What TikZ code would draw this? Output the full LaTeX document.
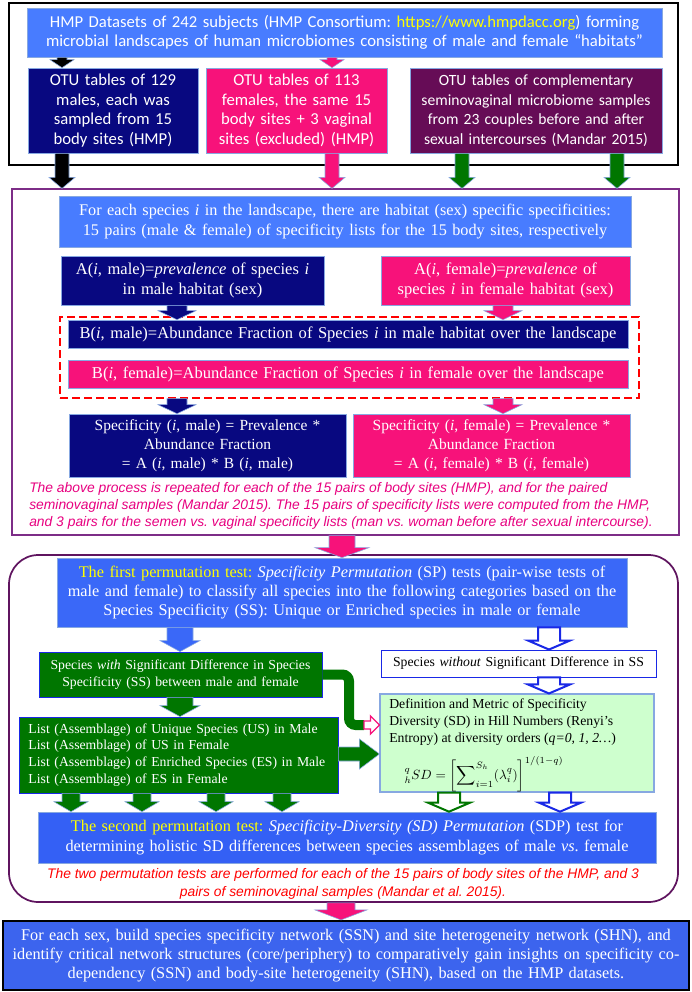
\documentclass[tikz,border=0pt]{standalone}
\usepackage{fontspec}
\setmainfont{Liberation Serif}
\newfontfamily\calfont{Carlito}
\newfontfamily\arfont{Liberation Sans}
\usetikzlibrary{calc}
\frenchspacing
\definecolor{hblue}{RGB}{72,124,255}
\definecolor{hbluetwo}{RGB}{58,104,248}
\definecolor{hbluethree}{RGB}{52,96,245}
\definecolor{fblue}{RGB}{60,100,238}
\definecolor{navy}{RGB}{8,8,128}
\definecolor{hpink}{RGB}{247,18,122}
\definecolor{hpurple}{RGB}{102,12,86}
\definecolor{hgreen}{RGB}{0,118,0}
\definecolor{lgreen}{RGB}{206,255,206}
\definecolor{framepurple}{RGB}{125,45,135}
\definecolor{framepurpletwo}{RGB}{95,20,95}
\definecolor{edgeblue}{RGB}{135,168,225}
\definecolor{hyellow}{RGB}{255,255,0}
\definecolor{magtext}{RGB}{232,0,128}
\definecolor{deepblue}{RGB}{25,40,230}
\newcommand\fcal{\calfont\fontsize{12.5}{14.6}\selectfont}
\newcommand\fcalsm{\calfont\fontsize{11.7}{14.6}\selectfont}
\newcommand\fser{\fontsize{12.2}{14.6}\selectfont}
\newcommand\fserb{\fontsize{12.4}{14.6}\selectfont}
\newcommand\fspec{\fontsize{11.6}{14.4}\selectfont}
\newcommand\fsm{\fontsize{10.3}{12.6}\selectfont}
\newcommand\fnote{\arfont\itshape\fontsize{10.4}{13}\selectfont}
\newcommand\flowbox[7]{%
  \pgfmathsetmacro\fbcx{(#3+#5)/2}%
  \pgfmathsetmacro\fbcy{(#4+#6)/2}%
  \pgfmathsetmacro\fbw{(#5-#3)*0.75}%
  \pgfmathsetmacro\fbh{(#6-#4)*0.75}%
  \pgfmathsetmacro\fbtw{\fbw-4}%
  \node[inner sep=0pt, minimum width=\fbw pt, minimum height=\fbh pt, text width=\fbtw pt, align=center, #2] (#1) at (\fbcx,\fbcy) {#7};}
\newcommand\blockarrow[6]{%
  \path[#1] let \p1=#2, \p2=#3 in
   (\x1-#4*0.75pt,\y1) -- (\x1+#4*0.75pt,\y1) -- (\x1+#4*0.75pt,\y2+#6*0.75pt) -- (\x1+#5*0.75pt,\y2+#6*0.75pt) -- (\x1,\y2) -- (\x1-#5*0.75pt,\y2+#6*0.75pt) -- (\x1-#4*0.75pt,\y2+#6*0.75pt) -- cycle;}
\newcommand\rblockarrow[6]{%
  \path[#1] let \p1=#2, \p2=#3 in
   (\x1,\y1+#4*0.75pt) -- (\x2-#6*0.75pt,\y1+#4*0.75pt) -- (\x2-#6*0.75pt,\y1+#5*0.75pt) -- (\x2,\y1) -- (\x2-#6*0.75pt,\y1-#5*0.75pt) -- (\x2-#6*0.75pt,\y1-#4*0.75pt) -- (\x1,\y1-#4*0.75pt) -- cycle;}
\tikzset{
  cbox/.style={fill=#1, draw=edgeblue, line width=0.5pt, text=white},
  sarrow/.style={fill=#1, draw=edgeblue, line width=0.4pt},
  harrow/.style={fill=white, draw=#1, line width=1.5pt},
}
\begin{document}
\begin{tikzpicture}[x=0.75pt,y=-0.75pt]
\useasboundingbox[fill=white] (0,0) rectangle (692,992);
% x positions for arrows
\foreach \n/\xx in {a/62,b/332,c/462,d/617,e/177,f/503,g/342,h/180,k/549,l1/71,l2/142,l3/216,l4/282,m/449,n/560,o/341}
  {\coordinate (x\n) at (\xx,0);}
% ---------- top section
\flowbox{topframe}{draw=black, line width=1pt}{9}{3}{678}{165}{}
\flowbox{hmp}{cbox=hblue, font=\fcal}{27}{8}{662}{57}{HMP Datasets of 242 subjects (HMP Consortium: \textcolor{hyellow}{https://www.hmpdacc.org}) forming\\ microbial landscapes of human microbiomes consisting of male and female “habitats”}
\flowbox{otuM}{cbox=navy, font=\fcal}{28}{68}{198}{153}{OTU tables of 129\\ males, each was\\ sampled from 15\\ body sites (HMP)}
\flowbox{otuF}{cbox=hpink, font=\fcal}{206}{68}{387}{153}{OTU tables of 113\\ females, the same 15\\ body sites + 3 vaginal\\ sites (excluded) (HMP)}
\flowbox{otuS}{cbox=hpurple, font=\fcalsm}{410}{68}{662}{153}{OTU tables of complementary\\ seminovaginal microbiome samples\\ from 23 couples before and after\\ sexual intercourses (Mandar 2015)}
% ---------- middle section
\flowbox{frame2}{draw=framepurple, line width=0.9pt}{12}{189}{679}{535}{}
\flowbox{each}{cbox=hblue, font=\fser}{59}{196}{631}{247}{For each species \textit{i} in the landscape, there are habitat (sex) specific specificities:\\ 15 pairs (male \& female) of specificity lists for the 15 body sites, respectively}
\flowbox{aM}{cbox=navy, font=\fserb}{61}{256}{324}{305}{A(\textit{i}, male)=\textit{prevalence} of species \textit{i}\\ in male habitat (sex)}
\flowbox{aF}{cbox=hpink, font=\fserb}{381}{256}{630}{305}{A(\textit{i}, female)=\textit{prevalence} of\\ species \textit{i} in female habitat (sex)}
\flowbox{dash}{draw=red, dashed, dash pattern=on 6pt off 3pt, line width=1pt}{60}{317}{639}{398}{}
\flowbox{bM}{cbox=navy, font=\fserb}{68}{320}{628}{348}{B(\textit{i}, male)=Abundance Fraction of Species \textit{i} in male habitat over the landscape}
\flowbox{bF}{cbox=hpink, font=\fserb}{68}{360}{628}{388}{B(\textit{i}, female)=Abundance Fraction of Species \textit{i} in female over the landscape}
\flowbox{sM}{cbox=navy, font=\fspec}{69}{414}{346}{477}{Specificity (\textit{i}, male) = Prevalence *\\ Abundance Fraction\\ = A (\textit{i}, male) * B (\textit{i}, male)}
\flowbox{sF}{cbox=hpink, font=\fspec}{353}{414}{630}{477}{Specificity (\textit{i}, female) = Prevalence *\\ Abundance Fraction\\ = A (\textit{i}, female) * B (\textit{i}, female)}
\node[anchor=west, align=left, inner sep=0pt, text=magtext, font=\fnote] (note1) at (29,506) {The above process is repeated for each of the 15 pairs of body sites (HMP), and for the paired\\ seminovaginal samples (Mandar 2015). The 15 pairs of specificity lists were computed from the HMP,\\ and 3 pairs for the semen vs. vaginal specificity lists (man vs. woman before after sexual intercourse).};
% ---------- bottom section
\flowbox{frame3}{draw=framepurpletwo, line width=1.3pt, rounded corners=22pt}{9}{555}{678}{902}{}
\flowbox{perm1}{cbox=hbluetwo, font=\fser}{57}{558}{627}{627}{\textcolor{hyellow}{The first permutation test:} \textit{Specificity Permutation} (SP) tests (pair-wise tests of\\ male and female) to classify all species into the following categories based on the\\ Species Specificity (SS): Unique or Enriched species in male or female}
\flowbox{with}{fill=hgreen, draw=deepblue, line width=0.6pt, text=white, font=\fsm}{39}{652}{322}{697}{Species \textit{with} Significant Difference in Species\\ Specificity (SS) between male and female}
\flowbox{without}{fill=white, draw=deepblue, line width=0.7pt, font=\fsm}{381}{650}{656}{677}{Species \textit{without} Significant Difference in SS}
\flowbox{lists}{fill=hgreen, draw=deepblue, line width=0.6pt, text=white, font=\fsm, align=left, text width=225pt}{19}{717}{338}{793}{List (Assemblage) of Unique Species (US) in Male\\ List (Assemblage) of US in Female\\ List (Assemblage) of Enriched Species (ES) in Male\\ List (Assemblage) of ES in Female}
\flowbox{sd}{fill=lgreen, draw=edgeblue, line width=0.8pt}{380}{694}{654}{792}{}
\node[anchor=north west, align=left, inner sep=0pt, font=\fsm] (sdtext) at (389,699) {Definition and Metric of Specificity\\ Diversity (SD) in Hill Numbers (Renyi’s\\ Entropy) at diversity orders (\textit{q=0, 1, 2…})};
\node[inner sep=0pt, font=\fsm] (formula) at (484,774) {${}^{q}_{h}SD=\left[\displaystyle\sum\nolimits_{i=1}^{S_h}(\lambda_i^{q})\right]^{1/(1-q)}$};
\flowbox{perm2}{cbox=hbluethree, font=\fser}{38}{812}{656}{863}{\textcolor{hyellow}{The second permutation test:} \textit{Specificity-Diversity (SD) Permutation} (SDP) test for\\ determining holistic SD differences between species assemblages of male \textit{vs}. female}
\node[align=center, inner sep=0pt, text=red, font=\fnote] (note2) at (343,884) {The two permutation tests are performed for each of the 15 pairs of body sites of the HMP, and 3\\ pairs of seminovaginal samples (Mandar et al. 2015).};
% ---------- final box
\flowbox{final}{fill=fblue, draw=black, line width=1.6pt, text=white, font=\fser}{3}{921}{689}{990}{For each sex, build species specificity network (SSN) and site heterogeneity network (SHN), and\\ identify critical network structures (core/periphery) to comparatively gain insights on specificity co-\\ dependency (SSN) and body-site heterogeneity (SHN), based on the HMP datasets.}
% ---------- arrows
\blockarrow{sarrow=black}{(hmp.south -| xa)}{(otuM.north -| xa)}{5}{12}{8}
\blockarrow{sarrow=hpink}{(hmp.south -| xb)}{(otuF.north -| xb)}{5}{12}{8}
\blockarrow{sarrow=black}{(otuM.south -| xa)}{(frame2.north -| xa)}{7}{13}{11}
\blockarrow{sarrow=hpink}{(otuF.south -| xb)}{(frame2.north -| xb)}{7}{13}{11}
\blockarrow{sarrow=hgreen}{(otuS.south -| xc)}{(frame2.north -| xc)}{7}{13}{11}
\blockarrow{sarrow=hgreen}{(otuS.south -| xd)}{(frame2.north -| xd)}{7}{13}{11}
\blockarrow{sarrow=navy}{(aM.south -| xe)}{(bM.north -| xe)}{10}{19}{9}
\blockarrow{sarrow=hpink}{(aF.south -| xf)}{(bM.north -| xf)}{10}{19}{9}
\blockarrow{sarrow=navy}{(dash.south -| xe)}{(sM.north -| xe)}{10}{19}{9}
\blockarrow{sarrow=hpink}{(dash.south -| xf)}{(sF.north -| xf)}{10}{19}{9}
\blockarrow{sarrow=hpink}{(frame2.south -| xg)}{(perm1.north -| xg)}{13}{27}{10}
\blockarrow{sarrow=hbluetwo}{(perm1.south -| xh)}{(with.north -| xh)}{13}{20}{11}
\blockarrow{harrow=deepblue}{(perm1.south -| xk)}{(without.north -| xk)}{11}{21}{9}
\blockarrow{harrow=deepblue}{(without.south -| xk)}{(sd.north -| xk)}{11}{21}{9}
\blockarrow{sarrow=hgreen}{(with.south -| xh)}{(lists.north -| xh)}{13}{20}{11}
\foreach \q in {l1,l2,l3,l4}{\blockarrow{sarrow=hgreen}{(lists.south -| x\q)}{(perm2.north -| x\q)}{9}{17}{10}}
\blockarrow{harrow=hgreen}{(sd.south -| xm)}{(perm2.north -| xm)}{11}{21}{9}
\blockarrow{harrow=deepblue}{(sd.south -| xn)}{(perm2.north -| xn)}{11}{21}{9}
\blockarrow{sarrow=hpink}{(frame3.south -| xo)}{(final.north -| xo)}{14}{26}{10}
% green connectors into the SD box
\coordinate (elb) at (349,725);
\coordinate (elbend) at (364,725);
\draw[hgreen, line width=7.5pt, rounded corners=5pt] (with.east) -| (elb) -- (elbend);
\rblockarrow{harrow=hpink, line width=1pt}{(elbend)}{(sd.west |- elbend)}{4}{9}{9}
\coordinate (big) at (0,754);
\rblockarrow{sarrow=hgreen}{(lists.east |- big)}{(sd.west |- big)}{7}{15}{20}
\end{tikzpicture}
\end{document}
